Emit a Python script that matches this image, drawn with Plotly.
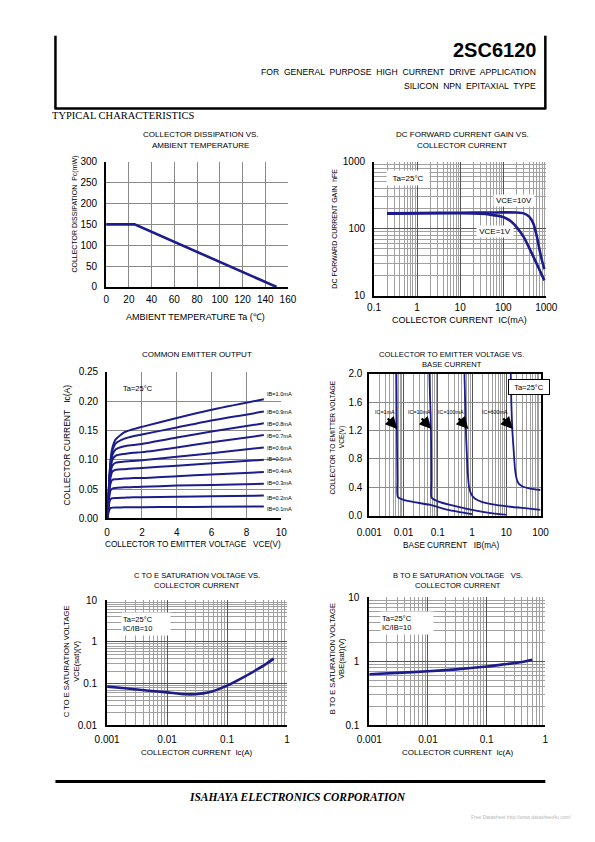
import math
import plotly.graph_objects as go

# the browser keeps its default 8px body margin; keep the figure a bit shorter
# than the window so the page never needs scrollbars
PAGE_W = 595
OFF = 8
FW, FH = 579, 818

# ---------------- DATA ----------------
# 1) Collector dissipation vs ambient temperature
ta_c = [0, 25, 150]
pc_mw = [150, 150, 0]

# 2) DC forward current gain vs collector current (mA)
ic_10v = [0.2, 1, 10, 50, 100, 200, 300, 400, 500, 600, 700, 800, 900]
hfe_10v = [170, 172, 174, 175, 176, 175, 170, 152, 120, 78, 48, 33, 25]
ic_1v = [0.2, 1, 10, 30, 50, 100, 150, 200, 300, 400, 600, 800, 900]
hfe_1v = [168, 170, 171, 168, 163, 150, 130, 108, 75, 52, 30, 20, 17]

# 3) Common emitter output
vce_pts = [0, 0.05, 0.1, 0.15, 0.2, 0.3, 0.5, 1.0, 1.5, 2, 4, 6, 9]
ib_labels = ["IB=0.1mA", "IB=0.2mA", "IB=0.3mA", "IB=0.4mA", "IB=0.5mA",
             "IB=0.6mA", "IB=0.7mA", "IB=0.8mA", "IB=0.9mA", "IB=1.0mA"]
ic_ib01 = [0, 0.006, 0.012, 0.016, 0.018, 0.0185, 0.0187, 0.019, 0.019, 0.0192, 0.0195, 0.020, 0.0205]
ic_ib02 = [0, 0.010, 0.022, 0.030, 0.033, 0.0345, 0.035, 0.0355, 0.036, 0.036, 0.037, 0.038, 0.039]
ic_ib03 = [0, 0.012, 0.030, 0.042, 0.048, 0.051, 0.052, 0.053, 0.0535, 0.054, 0.056, 0.057, 0.059]
ic_ib04 = [0, 0.014, 0.036, 0.052, 0.060, 0.066, 0.067, 0.068, 0.069, 0.069, 0.072, 0.075, 0.079]
ic_ib05 = [0, 0.015, 0.040, 0.060, 0.070, 0.080, 0.083, 0.084, 0.085, 0.086, 0.090, 0.094, 0.100]
ic_ib06 = [0, 0.016, 0.044, 0.066, 0.078, 0.090, 0.095, 0.097, 0.098, 0.099, 0.105, 0.111, 0.121]
ic_ib07 = [0, 0.017, 0.047, 0.071, 0.085, 0.100, 0.107, 0.110, 0.112, 0.113, 0.121, 0.130, 0.142]
ic_ib08 = [0, 0.018, 0.050, 0.075, 0.091, 0.108, 0.118, 0.123, 0.125, 0.127, 0.138, 0.148, 0.162]
ic_ib09 = [0, 0.018, 0.052, 0.078, 0.096, 0.115, 0.128, 0.136, 0.140, 0.143, 0.155, 0.167, 0.182]
ic_ib10 = [0, 0.019, 0.054, 0.081, 0.100, 0.120, 0.135, 0.147, 0.152, 0.156, 0.171, 0.185, 0.203]
ic_curves = [ic_ib01, ic_ib02, ic_ib03, ic_ib04, ic_ib05,
             ic_ib06, ic_ib07, ic_ib08, ic_ib09, ic_ib10]

# 4) VCE vs base current (mA)
ib_ic1 = [0.0062, 0.0064, 0.0066, 0.0068, 0.01, 0.02, 0.06, 0.2, 1.0]
vce_ic1 = [2.0, 1.2, 0.5, 0.26, 0.22, 0.19, 0.15, 0.08, 0.02]
ib_ic10 = [0.057, 0.059, 0.062, 0.064, 0.065, 0.066, 0.1, 0.23, 1.0, 4, 10]
vce_ic10 = [2.0, 1.7, 1.4, 1.0, 0.5, 0.25, 0.2, 0.15, 0.08, 0.03, 0.01]
ib_ic100 = [0.6, 0.63, 0.66, 0.7, 0.75, 0.82, 0.95, 1.2, 2, 5, 15, 40, 100]
vce_ic100 = [2.0, 1.6, 1.2, 0.9, 0.6, 0.4, 0.3, 0.24, 0.19, 0.15, 0.12, 0.1, 0.08]
ib_ic600 = [13.5, 14, 15, 16.5, 18, 20, 23, 30, 50, 100]
vce_ic600 = [2.0, 1.6, 1.2, 0.9, 0.65, 0.52, 0.45, 0.41, 0.38, 0.36]
ic_curve_labels = ["IC=1mA", "IC=10mA", "IC=100mA", "IC=600mA"]
arrow_ib = [0.0066, 0.065, 0.78, 15.5]
arrow_vce = [1.22, 1.22, 1.22, 1.22]

# 5) VCE(sat) vs IC (A)
ic_sat = [0.001, 0.002, 0.005, 0.01, 0.02, 0.03, 0.05, 0.1, 0.2, 0.3, 0.45, 0.6]
vce_sat = [0.085, 0.078, 0.068, 0.062, 0.056, 0.056, 0.062, 0.09, 0.15, 0.21, 0.30, 0.40]

# 6) VBE(sat) vs IC (A)
ic_bsat = [0.001, 0.003, 0.01, 0.03, 0.1, 0.2, 0.4, 0.6]
vbe_sat = [0.63, 0.66, 0.70, 0.75, 0.83, 0.90, 0.98, 1.06]

# tick labels
t2_x_vals = [0.1, 1, 10, 100, 1000]; t2_x_text = ["0.1", "1", "10", "100", "1000"]
t2_y_vals = [10, 100, 1000]; t2_y_text = ["10", "100", "1000"]
t4_x_vals = [0.001, 0.01, 0.1, 1, 10, 100]; t4_x_text = ["0.001", "0.01", "0.1", "1", "10", "100"]
t5_x_vals = [0.001, 0.01, 0.1, 1]; t5_x_text = ["0.001", "0.01", "0.1", "1"]
t5_y_vals = [0.01, 0.1, 1, 10]; t5_y_text = ["0.01", "0.1", "1", "10"]
t6_y_vals = [0.1, 1, 10]; t6_y_text = ["0.1", "1", "10"]

# ---------------- STYLE / LAYOUT ----------------
NAVY = "#1c1c8c"
SANS = "Liberation Sans, Arial, sans-serif"
SERIF = "Liberation Serif, Times New Roman, serif"
GRID = "#8a8a8a"


def X(px):
    return (px - OFF) / FW


def Y(py):
    return 1 - (py - OFF) / FH


def minor_vals(e0, e1):
    return [m * 10 ** e for e in range(e0, e1) for m in range(2, 10)]


fig = go.Figure()

# panel boxes (page px): x0, x1, y_top, y_bottom
P = {
    1: (97, 287, 158, 285),
    2: (377, 557, 158, 294),
    3: (98, 280, 371, 520),
    4: (372, 551, 373, 517),
    5: (98, 286, 603, 730),
    6: (372, 556, 600, 730),
}


def base_axis(dom, **kw):
    d = dict(domain=dom, showline=True, linecolor="black", linewidth=2,
             showgrid=True, gridcolor=GRID, gridwidth=1, zeroline=False,
             ticks="", tickfont=dict(family=SANS, size=10, color="black"),
             fixedrange=True)
    d.update(kw)
    return d


def xdom(n):
    return [X(P[n][0]), X(P[n][1])]


def ydom(n):
    return [Y(P[n][3]), Y(P[n][2])]


lay = {}
# chart 1
lay["xaxis"] = base_axis(xdom(1), anchor="y", range=[0, 160], dtick=20, tick0=0, ticklabelstandoff=2)
lay["yaxis"] = base_axis(ydom(1), anchor="x", range=[0, 300], dtick=50, tick0=0, ticklabelstandoff=5)
# chart 2
mgrid = dict(showgrid=True, gridcolor="#a0a0a0", gridwidth=0.8, ticks="")
lay["xaxis2"] = base_axis(xdom(2), anchor="y2", type="log", range=[-1, 3], tickmode="array",
                          tickvals=t2_x_vals, ticktext=t2_x_text, gridcolor="#555",
                          minor=dict(tickvals=minor_vals(-1, 3), **mgrid), ticklabelstandoff=1)
lay["yaxis2"] = base_axis(ydom(2), anchor="x2", type="log", range=[1, 3], tickmode="array",
                          tickvals=t2_y_vals, ticktext=t2_y_text, gridcolor="#555",
                          minor=dict(tickvals=minor_vals(1, 3), **mgrid), ticklabelstandoff=5)
# chart 3
lay["xaxis3"] = base_axis(xdom(3), anchor="y3", range=[0, 10], dtick=2, tick0=0, ticklabelstandoff=4)
lay["yaxis3"] = base_axis(ydom(3), anchor="x3", range=[0, 0.25], dtick=0.05, tick0=0,
                          tickformat=".2f", ticklabelstandoff=5)
# chart 4
lay["xaxis4"] = base_axis(xdom(4), anchor="y4", type="log", range=[-3, 2], tickmode="array",
                          tickvals=t4_x_vals, ticktext=t4_x_text, mirror=True, gridcolor="#555",
                          minor=dict(tickvals=minor_vals(-3, 2), **mgrid), ticklabelstandoff=6)
lay["yaxis4"] = base_axis(ydom(4), anchor="x4", range=[0, 2], dtick=0.4, tick0=0, mirror=True,
                          tickformat=".1f", ticklabelstandoff=3)
# chart 5
lay["xaxis5"] = base_axis(xdom(5), anchor="y5", type="log", range=[-3, 0], tickmode="array",
                          tickvals=t5_x_vals, ticktext=t5_x_text, gridcolor="#555",
                          minor=dict(tickvals=minor_vals(-3, 0), **mgrid), ticklabelstandoff=4)
lay["yaxis5"] = base_axis(ydom(5), anchor="x5", type="log", range=[-2, 1], tickmode="array",
                          tickvals=t5_y_vals, ticktext=t5_y_text, gridcolor="#555",
                          minor=dict(tickvals=minor_vals(-2, 1), **mgrid), ticklabelstandoff=6)
# chart 6
lay["xaxis6"] = base_axis(xdom(6), anchor="y6", type="log", range=[-3, 0], tickmode="array",
                          tickvals=t5_x_vals, ticktext=t5_x_text, gridcolor="#555",
                          minor=dict(tickvals=minor_vals(-3, 0), **mgrid), ticklabelstandoff=4)
lay["yaxis6"] = base_axis(ydom(6), anchor="x6", type="log", range=[-1, 1], tickmode="array",
                          tickvals=t6_y_vals, ticktext=t6_y_text, gridcolor="#555",
                          minor=dict(tickvals=minor_vals(-1, 1), **mgrid), ticklabelstandoff=6)

# ---------------- TRACES ----------------
def line(x, y, xa, ya, w=2.5, shape="linear"):
    fig.add_trace(go.Scatter(x=x, y=y, xaxis=xa, yaxis=ya, mode="lines",
                             line=dict(color=NAVY, width=w, shape=shape, smoothing=0.6),
                             showlegend=False, hoverinfo="skip"))


line(ta_c, pc_mw, "x", "y", 2.6)
line(ic_10v, hfe_10v, "x2", "y2", 2.6, "spline")
line(ic_1v, hfe_1v, "x2", "y2", 2.6, "spline")
for cur in ic_curves:
    line(vce_pts, cur, "x3", "y3", 2.0, "spline")
line(ib_ic1, vce_ic1, "x4", "y4", 1.8, "spline")
line(ib_ic10, vce_ic10, "x4", "y4", 1.8, "spline")
line(ib_ic100, vce_ic100, "x4", "y4", 1.8, "spline")
line(ib_ic600, vce_ic600, "x4", "y4", 1.8, "spline")
line(ic_sat, vce_sat, "x5", "y5", 2.6, "spline")
line(ic_bsat, vbe_sat, "x6", "y6", 2.6, "spline")

# ---------------- ANNOTATIONS ----------------
ann = []


def txt(px, py, s, size=8, family=SANS, color="black", xanchor="center", angle=0, **kw):
    ann.append(dict(x=X(px), y=Y(py), xref="paper", yref="paper", text=s, showarrow=False,
                    xanchor=xanchor, yanchor="middle", textangle=angle,
                    font=dict(family=family, size=size, color=color), **kw))


# header
txt(548, 45, "<b>2SC6120</b>", 20, xanchor="right")
txt(548, 67, "FOR  GENERAL  PURPOSE  HIGH  CURRENT  DRIVE  APPLICATION", 8.6, xanchor="right")
txt(548, 81, "SILICON  NPN  EPITAXIAL  TYPE", 8.6, xanchor="right")
txt(38, 111, "TYPICAL CHARACTERISTICS", 10.5, family=SERIF, xanchor="left")
txt(297, 803, "<b><i>ISAHAYA ELECTRONICS CORPORATION</i></b>", 11.5, family=SERIF)
txt(586, 823, "Free Datasheet http://www.datasheet4u.com/", 5, color="#b8b8b8", xanchor="right")

# chart 1
txt(196, 130, "COLLECTOR DISSIPATION VS.", 8)
txt(196, 141, "AMBIENT TEMPERATURE", 8)
txt(64, 211, "COLLECTOR DISSIPATION  Pc(mW)", 7, angle=-90)
txt(190, 316, "AMBIENT TEMPERATURE Ta (℃)", 9)

# chart 2
txt(469, 130, "DC FORWARD CURRENT GAIN VS.", 8)
txt(469, 141, "COLLECTOR CURRENT", 8)
txt(336, 226, "DC FORWARD CURRENT GAIN  hFE", 7, angle=-90)
txt(466, 319, "COLLECTOR CURRENT  IC(mA)", 9)
txt(412, 174, "Ta=25°C", 8, bgcolor="white", width=40, height=12)
txt(523, 197, "VCE=10V", 8, bgcolor="white", width=38, height=9)
txt(503.5, 229, "VCE=1V", 8, bgcolor="white", width=34, height=9)

# chart 3
txt(192, 354, "COMMON EMITTER OUTPUT", 8)
txt(188, 546, "COLLECTOR TO EMITTER VOLTAGE   VCE(V)", 8.2)
txt(56, 445, "COLLECTOR CURRENT   Ic(A)", 8.5, angle=-90)
txt(130, 388, "Ta=25°C", 7.5)
ib_label_py = [510.7, 499.3, 484, 472.3, 460, 448.7, 436, 424, 411.7, 393.3]
for s, py in zip(ib_labels, ib_label_py):
    txt(263, py, s, 5.6, xanchor="left")

# chart 4
txt(458, 354, "COLLECTOR TO EMITTER VOLTAGE VS.", 7.6)
txt(458, 364, "BASE CURRENT", 7.6)
txt(334, 438, "COLLECTOR TO EMITTER VOLTAGE", 6.6, angle=-90)
txt(343, 438, "VCE(V)", 6.6, angle=-90)
txt(458, 547, "BASE CURRENT   IB(mA)", 8.2)
txt(539, 386.5, "Ta=25°C", 7.5, bgcolor="white", bordercolor="black", borderwidth=1,
    width=38, height=12)
label_px = [388, 424, 457, 503]
for s, lpx in zip(ic_curve_labels, label_px):
    txt(lpx, 412, s, 5.4)
for xi, yi in zip(arrow_ib, arrow_vce):
    ann.append(dict(x=math.log10(xi), y=yi, xref="x4", yref="y4", text="", showarrow=True,
                    ax=-11, ay=-12, arrowhead=2, arrowsize=1.0, arrowwidth=2.4,
                    arrowcolor="black", standoff=0))

# chart 5
txt(192, 578, "C TO E SATURATION VOLTAGE VS.", 7.6)
txt(192, 588, "COLLECTOR CURRENT", 7.6)
txt(55, 665, "C TO E SATURATION VOLTAGE", 7.6, angle=-90)
txt(66, 665, "VCE(sat)(V)", 7.6, angle=-90)
txt(192, 758, "COLLECTOR CURRENT  Ic(A)", 8)
txt(139, 627, "Ta=25°C<br>IC/IB=10", 7.5, bgcolor="white", width=46, height=20, align="left")

# chart 6
txt(465, 578, "B TO E SATURATION VOLTAGE   VS.", 7.6)
txt(465, 588, "COLLECTOR CURRENT", 7.6)
txt(333, 662, "B TO E SATURATION VOLTAGE", 7.6, angle=-90)
txt(343, 662, "VBE(sat)(V)", 7.6, angle=-90)
txt(465, 758, "COLLECTOR CURRENT  Ic(A)", 8)
txt(411.5, 626, "Ta=25°C<br>IC/IB=10", 7.5, bgcolor="white", width=50, height=20, align="left")

# ---------------- SHAPES (page frame lines) ----------------
shapes = [
    dict(type="line", xref="paper", yref="paper", x0=X(44), x1=X(44), y0=Y(30), y1=Y(104),
         line=dict(color="black", width=2.5)),
    dict(type="line", xref="paper", yref="paper", x0=X(556), x1=X(556), y0=Y(30), y1=Y(104),
         line=dict(color="black", width=2.5)),
    dict(type="line", xref="paper", yref="paper", x0=X(43), x1=X(557), y0=Y(104), y1=Y(104),
         line=dict(color="black", width=2.5)),
    dict(type="line", xref="paper", yref="paper", x0=X(44), x1=X(556), y0=Y(787), y1=Y(787),
         line=dict(color="black", width=3)),
]

fig.update_layout(width=FW, height=FH, margin=dict(l=0, r=0, t=0, b=0), autosize=False,
                  paper_bgcolor="white", plot_bgcolor="white", showlegend=False,
                  annotations=ann, shapes=shapes, **lay)

fig.write_html("out.html", config={"displayModeBar": False, "responsive": False})
